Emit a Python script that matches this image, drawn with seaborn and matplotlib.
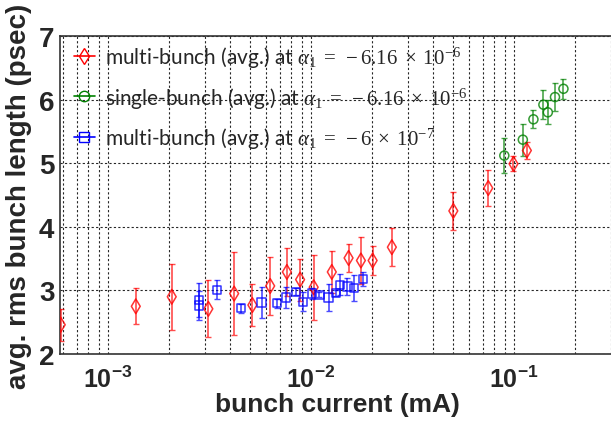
import matplotlib
matplotlib.use("Agg")
import matplotlib.pyplot as plt
from matplotlib.lines import Line2D
from matplotlib.ticker import LogLocator, NullFormatter
import pandas as pd
import seaborn as sns

# multi-bunch (avg.) at alpha1 = -6.16e-6
red_x = [5.85e-4, 1.37e-3, 2.06e-3, 3.12e-3, 4.18e-3, 5.14e-3, 6.29e-3, 7.6e-3,
         8.83e-3, 1.03e-2, 1.265e-2, 1.53e-2, 1.76e-2, 2.01e-2, 2.50e-2,
         5.02e-2, 7.46e-2, 9.93e-2, 1.156e-1]
red_y = [2.46, 2.75, 2.90, 2.71, 2.95, 2.77, 3.07, 3.29,
         3.17, 3.05, 3.29, 3.51, 3.47, 3.47, 3.68,
         4.25, 4.61, 4.99, 5.20]
red_err = [0.25, 0.28, 0.52, 0.45, 0.65, 0.33, 0.45, 0.38,
           0.33, 0.51, 0.33, 0.22, 0.37, 0.23, 0.30,
           0.30, 0.28, 0.12, 0.13]

# single-bunch (avg.) at alpha1 = -6.16e-6
green_x = [0.0895, 0.1104, 0.1245, 0.1394, 0.1466, 0.159, 0.175]
green_y = [5.12, 5.37, 5.69, 5.92, 5.80, 6.04, 6.17]
green_err = [0.28, 0.25, 0.14, 0.23, 0.19, 0.22, 0.16]

# multi-bunch (avg.) at alpha1 = -6e-7
blue_x = [2.80e-3, 2.81e-3, 3.45e-3, 4.52e-3, 5.71e-3, 6.78e-3, 7.53e-3,
          8.44e-3, 9.16e-3, 1.007e-2, 1.1e-2, 1.22e-2, 1.33e-2, 1.39e-2,
          1.51e-2, 1.63e-2, 1.80e-2]
blue_y = [2.85, 2.76, 3.01, 2.72, 2.81, 2.80, 2.89,
          2.98, 2.82, 2.95, 2.93, 2.89, 2.96, 3.09,
          3.06, 3.04, 3.18]
blue_err = [0.27, 0.23, 0.15, 0.07, 0.25, 0.07, 0.17,
            0.06, 0.15, 0.09, 0.04, 0.21, 0.05, 0.17,
            0.13, 0.20, 0.11]

labels = [r"multi-bunch (avg.) at $\alpha_1\;=\;-6.16\;\times\;10^{-6}$",
          r"single-bunch (avg.) at $\alpha_1\;=\;-6.16\;\times\;10^{-6}$",
          r"multi-bunch (avg.) at $\alpha_1\;=\;-6\;\times\;10^{-7}$"]
xticks = [1e-3, 1e-2, 1e-1]
xtick_labels = [r"$\mathbf{10^{-3}}$", r"$\mathbf{10^{-2}}$", r"$\mathbf{10^{-1}}$"]
yticks = [2, 3, 4, 5, 6, 7]

sns.set_style("white")
plt.rcParams["font.family"] = ["Liberation Sans", "DejaVu Sans"]
plt.rcParams["mathtext.fontset"] = "custom"
plt.rcParams["mathtext.rm"] = "Liberation Serif"
plt.rcParams["mathtext.it"] = "Liberation Serif:italic"
plt.rcParams["mathtext.bf"] = "Liberation Sans:bold"

fig = plt.figure(figsize=(6.11, 4.27), dpi=100)
ax = fig.add_axes([60 / 611, 72 / 427, 555 / 611, 318 / 427])

series = [
    (red_x, red_y, red_err, "#ff0000", "d", 7.5),
    (green_x, green_y, green_err, "#008000", "o", 6.5),
    (blue_x, blue_y, blue_err, "#0000ff", "s", 6),
]
handles = []
for (x, y, e, c, m, ms), lab in zip(series, labels):
    df = pd.DataFrame({"x": x, "y": y, "e": e})
    ax.errorbar(df["x"], df["y"], yerr=df["e"], fmt="none", ecolor=c,
                elinewidth=1.2, capsize=2.5, alpha=0.7, zorder=3)
    sns.scatterplot(data=df, x="x", y="y", marker=m, s=ms ** 2,
                    facecolor="none", edgecolor=c, linewidth=1.1, alpha=0.8,
                    ax=ax, zorder=4)
    handles.append(Line2D([], [], color=c, marker=m, markersize=ms + 1,
                          markerfacecolor="none", markeredgecolor=c, lw=1.2))

ax.set_xscale("log")
ax.set_xlim(5.8e-4, 0.314)
ax.set_ylim(2, 7)
ax.set_xticks(xticks)
ax.set_xticklabels(xtick_labels)
ax.xaxis.set_minor_locator(LogLocator(base=10, subs=range(2, 10)))
ax.xaxis.set_minor_formatter(NullFormatter())
ax.set_yticks(yticks)
ax.tick_params(axis="x", which="major", labelsize=18, pad=8, direction="in", length=4)
ax.tick_params(axis="x", which="minor", direction="in", length=2)
ax.tick_params(axis="y", labelsize=20, direction="in", length=4, pad=4)
for t in ax.get_yticklabels():
    t.set_fontweight("bold")

ax.grid(True, which="major", color="0.15", linestyle=(0, (2, 2)), linewidth=0.8)
ax.grid(True, which="minor", axis="x", color="0.15", linestyle=(0, (2, 2)), linewidth=0.8)
for s in ax.spines.values():
    s.set_color("0.2")
    s.set_linewidth(1.2)

ax.set_xlabel("bunch current (mA)", fontsize=19, fontweight="bold", labelpad=0)
ax.set_ylabel("avg. rms bunch length (psec)", fontsize=20, fontweight="bold", labelpad=5)

leg = ax.legend(handles, labels, loc="upper left", bbox_to_anchor=(0.025, 0.975),
                frameon=False, prop={"family": "Lato", "size": 15},
                borderaxespad=0, borderpad=0,
                labelspacing=0.75, handlelength=1.0, handletextpad=0.5)

fig.savefig("out.png", dpi=100)
